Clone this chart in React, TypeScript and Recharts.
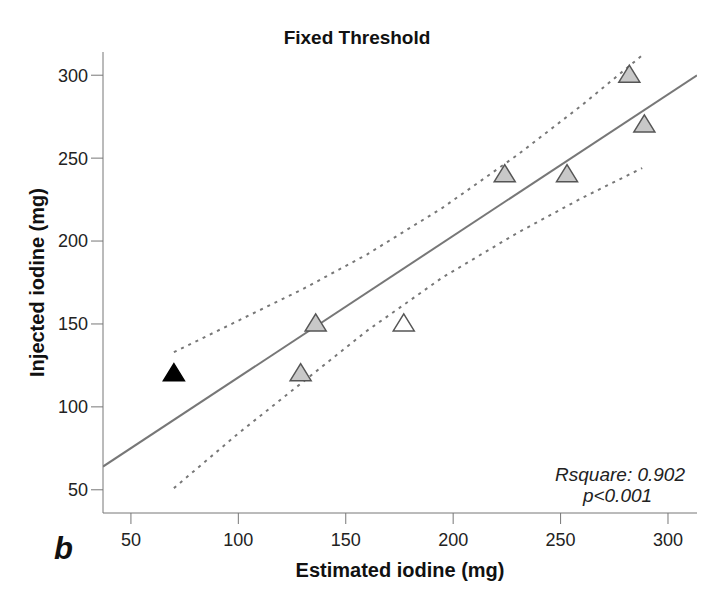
import React from 'react';
import { ScatterChart, Scatter, XAxis, YAxis, Label } from 'recharts';

// Measured points (estimated vs injected iodine, mg)
const estimated = [70, 129, 136, 177, 224, 253, 282, 289];
const injected = [120, 120, 150, 150, 240, 240, 300, 270];
const groups = ['excluded', 'fit', 'fit', 'open', 'fit', 'fit', 'fit', 'fit'];

// Regression line endpoints
const fitX = [37, 313.5];
const fitY = [64, 300];

// 95% confidence band
const bandX = [70, 100, 130, 160, 195, 230, 260, 288];
const upperY = [133, 152, 171, 192, 220, 252, 282, 312];
const lowerY = [51, 84, 115, 146, 178, 205, 226, 244];

const xTicks = [50, 100, 150, 200, 250, 300];
const yTicks = [50, 100, 150, 200, 250, 300];

const FONT = '"Liberation Sans", Arial, sans-serif';

const points = estimated.map((x, i) => ({ x, y: injected[i], group: groups[i] }));
const fitLine = fitX.map((x, i) => ({ x, y: fitY[i] }));
const upperBand = bandX.map((x, i) => ({ x, y: upperY[i] }));
const lowerBand = bandX.map((x, i) => ({ x, y: lowerY[i] }));

const fillFor = (g: string) => (g === 'excluded' ? '#000' : g === 'open' ? '#fff' : '#c8c8c8');

function Triangle(props: any) {
  const { cx, cy, payload } = props;
  if (cx == null || cy == null) return <g />;
  return (
    <polygon
      points={`${cx},${cy - 10} ${cx - 10.5},${cy + 7} ${cx + 10.5},${cy + 7}`}
      fill={fillFor(payload.group)}
      stroke={payload.group === 'excluded' ? '#000' : '#555'}
      strokeWidth={1.5}
    />
  );
}

const NoDot = () => <g />;

export default function App() {
  const tickStyle = { fill: '#222', fontSize: 18, fontFamily: FONT };
  const labelStyle = { fontWeight: 'bold', fontSize: 20, fill: '#111', fontFamily: FONT };
  return (
    <div style={{ position: 'absolute', left: 0, top: 0, width: 712, height: 606, background: '#fff', fontFamily: FONT }}>
      <div style={{ position: 'absolute', left: 0, width: 714, top: 27, textAlign: 'center', fontWeight: 'bold', fontSize: 19, color: '#111' }}>
        Fixed Threshold
      </div>
      <ScatterChart width={712} height={606} margin={{ top: 52, right: 15, bottom: 53, left: 43 }}>
        <XAxis
          type="number"
          dataKey="x"
          domain={[37, 313.5]}
          ticks={xTicks}
          allowDataOverflow
          tickSize={11}
          tickMargin={9}
          height={40}
          stroke="#777"
          tick={tickStyle}
        >
          <Label value="Estimated iodine (mg)" position="bottom" offset={10} style={labelStyle} />
        </XAxis>
        <YAxis
          type="number"
          dataKey="y"
          domain={[36, 314]}
          ticks={yTicks}
          allowDataOverflow
          tickSize={12}
          tickMargin={3}
          width={60}
          stroke="#777"
          tick={tickStyle}
        >
          <Label value="Injected iodine (mg)" angle={-90} position="insideLeft" offset={-6} style={{ ...labelStyle, textAnchor: 'middle' }} />
        </YAxis>
        <Scatter data={upperBand} line={{ stroke: '#777', strokeWidth: 2, strokeDasharray: '3 5' }} shape={<NoDot />} isAnimationActive={false} />
        <Scatter data={lowerBand} line={{ stroke: '#777', strokeWidth: 2, strokeDasharray: '3 5' }} shape={<NoDot />} isAnimationActive={false} />
        <Scatter data={fitLine} line={{ stroke: '#777', strokeWidth: 2 }} shape={<NoDot />} isAnimationActive={false} />
        <Scatter data={points} shape={<Triangle />} isAnimationActive={false} />
      </ScatterChart>
      <div style={{ position: 'absolute', left: 530, width: 155, top: 464, textAlign: 'right', fontStyle: 'italic', fontSize: 19, color: '#222' }}>
        Rsquare: 0.902
      </div>
      <div style={{ position: 'absolute', left: 540, width: 145, top: 485, textAlign: 'center', fontStyle: 'italic', fontSize: 19, color: '#222' }}>
        <span style={{ position: 'relative', left: 5 }}>p&lt;0.001</span>
      </div>
      <div style={{ position: 'absolute', left: 54, top: 531, fontWeight: 'bold', fontStyle: 'italic', fontSize: 31, color: '#111' }}>
        b
      </div>
    </div>
  );
}
